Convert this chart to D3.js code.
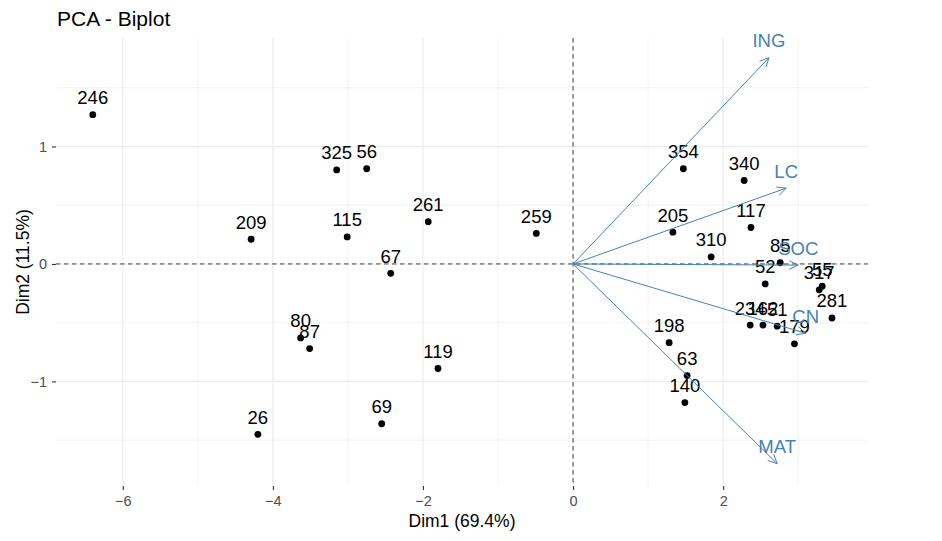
<!DOCTYPE html>
<html><head><meta charset="utf-8">
<script src="https://cdn.jsdelivr.net/npm/d3@7"></script>
<style>body{margin:0;background:#fff;}svg{display:block;font-family:"Liberation Sans",Arial,sans-serif;}</style>
</head><body><svg id="c" width="942" height="541"></svg>
<script>
// Individuals
const ids  = ["246","209","325","56","115","261","67","259","80","87","119","26","69",
              "354","340","117","205","310","85","52","55","317","281","234","162","51","179","198","63","140"];
const dim1 = [-6.40,-4.29,-3.15,-2.75,-3.01,-1.93,-2.43,-0.49,-3.63,-3.51,-1.80,-4.20,-2.55,
              1.47,2.28,2.37,1.33,1.84,2.76,2.56,3.32,3.28,3.45,2.36,2.53,2.72,2.95,1.28,1.52,1.49];
const dim2 = [1.27,0.21,0.80,0.81,0.23,0.36,-0.08,0.26,-0.63,-0.72,-0.89,-1.45,-1.36,
              0.81,0.71,0.31,0.27,0.06,0.01,-0.17,-0.19,-0.22,-0.46,-0.52,-0.52,-0.53,-0.68,-0.67,-0.95,-1.18];
// Variables
const vars = ["ING","LC","SOC","CN","MAT"];
const varX = [2.61,2.84,3.00,3.10,2.72];
const varY = [1.755,0.645,-0.01,-0.59,-1.70];
// Ticks
const xMajor = [-6,-4,-2,0,2], xMinor = [-5,-3,-1,1,3];
const yMajor = [-1,0,1], yMinor = [-1.5,-0.5,0.5,1.5];

const svg = d3.select("#c");
svg.append("rect").attr("width",942).attr("height",541).attr("fill","#fff");
const L=56,R=868,T=38,B=486;
const x = d3.scaleLinear().domain([-6.89,3.93]).range([L,R]);
const y = d3.scaleLinear().domain([-1.89,1.923]).range([B,T]);
const grid = svg.append("g");
xMinor.forEach(v=>grid.append("line").attr("x1",x(v)).attr("x2",x(v)).attr("y1",T).attr("y2",B).attr("stroke","#ebebeb").attr("stroke-width",0.6));
yMinor.forEach(v=>grid.append("line").attr("y1",y(v)).attr("y2",y(v)).attr("x1",L).attr("x2",R).attr("stroke","#ebebeb").attr("stroke-width",0.6));
xMajor.forEach(v=>grid.append("line").attr("x1",x(v)).attr("x2",x(v)).attr("y1",T).attr("y2",B).attr("stroke","#ebebeb").attr("stroke-width",1.1));
yMajor.forEach(v=>grid.append("line").attr("y1",y(v)).attr("y2",y(v)).attr("x1",L).attr("x2",R).attr("stroke","#ebebeb").attr("stroke-width",1.1));

// axes
const xa = svg.append("g").attr("transform",`translate(0,${B})`).call(d3.axisBottom(x).tickValues(xMajor).tickSize(4).tickPadding(5).tickFormat(d3.format("d")));
const ya = svg.append("g").attr("transform",`translate(${L},0)`).call(d3.axisLeft(y).tickValues(yMajor).tickSize(4).tickPadding(5).tickFormat(d3.format("d")));
[xa,ya].forEach(a=>{a.select(".domain").remove();a.selectAll(".tick line").attr("stroke","#333").attr("stroke-width",1.1);
  a.selectAll("text").attr("fill","#4d4d4d").style("font-size","14.5px").style("font-family","Liberation Sans, Arial, sans-serif");});
xa.selectAll("text").attr("dy","0.75em");

// dashed zero lines
svg.append("line").attr("x1",x(0)).attr("x2",x(0)).attr("y1",T).attr("y2",B).attr("stroke","#444").attr("stroke-dasharray","4.5,3.5").attr("stroke-width",1);
svg.append("line").attr("y1",y(0)).attr("y2",y(0)).attr("x1",L).attr("x2",R).attr("stroke","#444").attr("stroke-dasharray","4.5,3.5").attr("stroke-width",1);

// points
const pts = svg.append("g");
ids.forEach((id,i)=>{
  pts.append("circle").attr("cx",x(dim1[i])).attr("cy",y(dim2[i])).attr("r",3.4).attr("fill","#000");
});
ids.forEach((id,i)=>{
  pts.append("text").attr("x",x(dim1[i])).attr("y",y(dim2[i])-10.5).attr("text-anchor","middle")
    .style("font-size","18.5px").attr("fill","#000").text(id);
});

// variable arrows
const col="#4682b4";
const va = svg.append("g");
vars.forEach((v,i)=>{
  const x0=x(0),y0=y(0),x1=x(varX[i]),y1=y(varY[i]);
  va.append("line").attr("x1",x0).attr("y1",y0).attr("x2",x1).attr("y2",y1).attr("stroke",col).attr("stroke-width",1);
  const ang=Math.atan2(y1-y0,x1-x0), len=10, a=Math.PI/7;
  const p1=[x1-len*Math.cos(ang-a), y1-len*Math.sin(ang-a)];
  const p2=[x1-len*Math.cos(ang+a), y1-len*Math.sin(ang+a)];
  va.append("path").attr("d",`M${p1[0]},${p1[1]}L${x1},${y1}L${p2[0]},${p2[1]}`).attr("fill","none").attr("stroke",col).attr("stroke-width",1);
  va.append("text").attr("x",x1).attr("y",y1-10.5).attr("text-anchor","middle").style("font-size","18.5px").attr("fill",col).text(v);
});

// titles
svg.append("text").attr("x",57).attr("y",25.5).style("font-size","21px").attr("fill","#000").text("PCA - Biplot");
svg.append("text").attr("x",(L+R)/2).attr("y",527).attr("text-anchor","middle").style("font-size","17.5px").attr("fill","#000").text("Dim1 (69.4%)");
svg.append("text").attr("transform",`translate(29,${(T+B)/2}) rotate(-90)`).attr("text-anchor","middle").style("font-size","17.5px").attr("fill","#000").text("Dim2 (11.5%)");
</script></body></html>
